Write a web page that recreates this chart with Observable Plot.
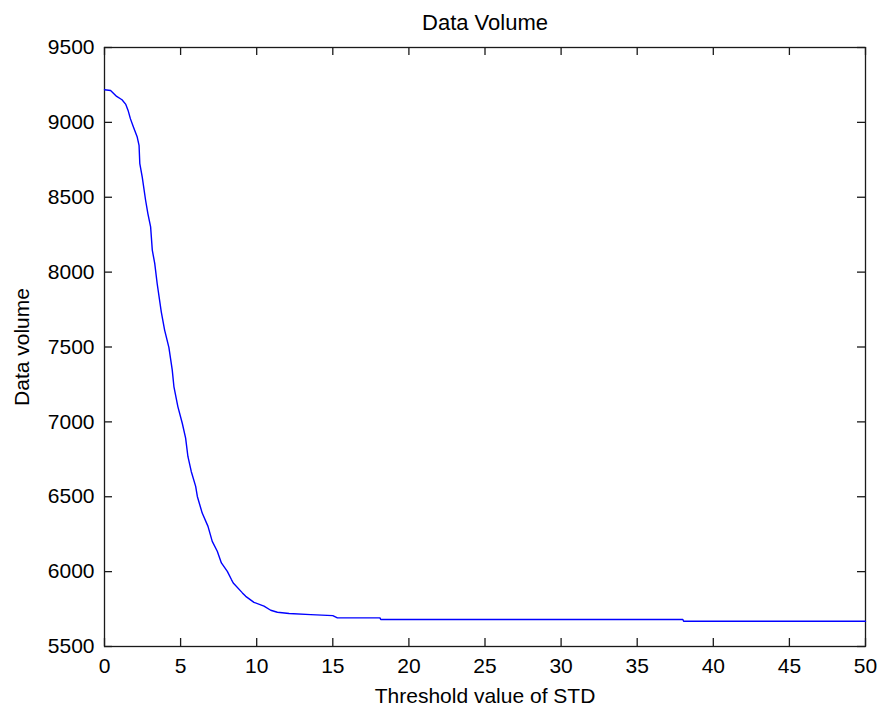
<!DOCTYPE html>
<html>
<head>
<meta charset="utf-8">
<script src="https://cdn.jsdelivr.net/npm/d3@7"></script>
<script src="https://cdn.jsdelivr.net/npm/@observablehq/plot@0.6"></script>
<style>
  html, body { margin: 0; padding: 0; background: #fff; }
  #chart { width: 880px; height: 710px; }
</style>
</head>
<body>
<div id="chart"></div>
<script>
const titleText = "Data Volume";
const xLabel = "Threshold value of STD";
const yLabel = "Data volume";
const xTicks = [0, 5, 10, 15, 20, 25, 30, 35, 40, 45, 50];
const yTicks = [5500, 6000, 6500, 7000, 7500, 8000, 8500, 9000, 9500];

const thresholds = [0, 0.4, 0.8, 1.15, 1.4, 1.55, 1.7, 1.9, 2.15, 2.27, 2.32, 2.48, 2.7, 2.85, 3.03, 3.14, 3.3, 3.46, 3.73, 3.95, 4.23, 4.45, 4.56, 4.82, 5.11, 5.33, 5.48, 5.7, 5.99, 6.1, 6.42, 6.8, 7.08, 7.41, 7.68, 8.07, 8.34, 8.46, 9.06, 9.28, 9.82, 10.48, 10.92, 11.36, 12.13, 13.55, 15.0, 15.3, 18.1, 18.15, 38.0, 38.05, 50];
const volumes = [9218, 9213, 9173, 9151, 9120, 9080, 9025, 8969, 8902, 8847, 8725, 8635, 8480, 8391, 8302, 8147, 8058, 7924, 7735, 7613, 7498, 7347, 7236, 7102, 6991, 6891, 6769, 6669, 6569, 6502, 6391, 6302, 6202, 6136, 6058, 6002, 5947, 5924, 5858, 5835, 5795, 5769, 5742, 5729, 5720, 5713, 5706, 5691, 5691, 5680, 5680, 5669, 5669];

const data = thresholds.map((t, i) => ({t, v: volumes[i]}));

const font = "'Liberation Sans', Arial, sans-serif";
const fmt = d3.format("d");

const W = 880, H = 710, mL = 104, mR = 15, mT = 47, mB = 64;
const tickLen = 8;
const innerW = W - mL - mR, innerH = H - mT - mB;
const axisColor = "#1a1a1a";

const chart = Plot.plot({
  width: W,
  height: H,
  marginLeft: mL,
  marginRight: mR,
  marginTop: mT,
  marginBottom: mB,
  style: {fontFamily: font, fontSize: "21px", color: "#000", background: "#fff", overflow: "visible"},
  x: {domain: [0, 50]},
  y: {domain: [5500, 9500]},
  marks: [
    Plot.axisX({anchor: "bottom", ticks: xTicks, tickFormat: fmt, tickSize: 0, tickPadding: 12, fontSize: 21,
      label: xLabel, labelAnchor: "center", labelOffset: 56, labelArrow: "none"}),
    Plot.axisY({anchor: "left", ticks: yTicks, tickFormat: fmt, tickSize: 0, tickPadding: 10, fontSize: 21,
      label: yLabel, labelAnchor: "center", labelOffset: 90, labelArrow: "none"}),
    // inward ticks on all four sides
    Plot.tickX(xTicks, {x: d => d, stroke: axisColor, strokeWidth: 1.3, insetTop: innerH - tickLen}),
    Plot.tickX(xTicks, {x: d => d, stroke: axisColor, strokeWidth: 1.3, insetBottom: innerH - tickLen}),
    Plot.tickY(yTicks, {y: d => d, stroke: axisColor, strokeWidth: 1.3, insetRight: innerW - tickLen}),
    Plot.tickY(yTicks, {y: d => d, stroke: axisColor, strokeWidth: 1.3, insetLeft: innerW - tickLen}),
    Plot.frame({stroke: axisColor, strokeWidth: 1.3}),
    Plot.line(data, {x: "t", y: "v", stroke: "#0000ff", strokeWidth: 1.4}),
    Plot.text([titleText], {frameAnchor: "top", dy: -18, lineAnchor: "bottom", fontSize: 22, fill: "#000"})
  ]
});

document.getElementById("chart").appendChild(chart);
</script>
</body>
</html>
